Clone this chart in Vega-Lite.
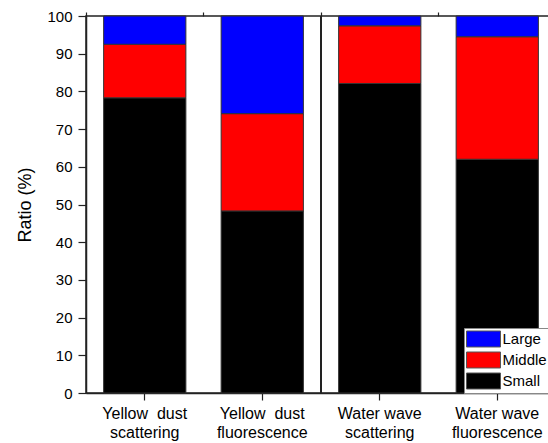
{
  "$schema": "https://vega.github.io/schema/vega-lite/v6.json",
  "width": 470,
  "height": 377,
  "autosize": {"type": "none"},
  "padding": {"left": 86, "top": 16, "right": 0, "bottom": 50},
  "config": {
    "font": "Liberation Sans",
    "view": {"stroke": "#222", "strokeWidth": 1.5},
    "axis": {"domainColor": "#222", "tickColor": "#222", "labelColor": "#000", "titleColor": "#000", "domainWidth": 1.5, "tickWidth": 1.2}
  },
  "data": {
    "values": [
      {"group": "Yellow\u00a0 dust|scattering", "size": "Small", "ratio": 78.3},
      {"group": "Yellow\u00a0 dust|scattering", "size": "Middle", "ratio": 14.2},
      {"group": "Yellow\u00a0 dust|scattering", "size": "Large", "ratio": 7.5},
      {"group": "Yellow\u00a0 dust|fluorescence", "size": "Small", "ratio": 48.3},
      {"group": "Yellow\u00a0 dust|fluorescence", "size": "Middle", "ratio": 25.8},
      {"group": "Yellow\u00a0 dust|fluorescence", "size": "Large", "ratio": 25.9},
      {"group": "Water wave|scattering", "size": "Small", "ratio": 82.1},
      {"group": "Water wave|scattering", "size": "Middle", "ratio": 15.3},
      {"group": "Water wave|scattering", "size": "Large", "ratio": 2.6},
      {"group": "Water wave|fluorescence", "size": "Small", "ratio": 62.0},
      {"group": "Water wave|fluorescence", "size": "Middle", "ratio": 32.5},
      {"group": "Water wave|fluorescence", "size": "Large", "ratio": 5.5}
    ]
  },
  "layer": [
    {
      "mark": {"type": "bar", "width": {"band": 0.7}, "stroke": "#333", "strokeWidth": 1},
      "encoding": {
        "x": {
          "field": "group", "type": "nominal",
          "scale": {"domain": ["Yellow\u00a0 dust|scattering", "Yellow\u00a0 dust|fluorescence", "Water wave|scattering", "Water wave|fluorescence"], "paddingInner": 0, "paddingOuter": 0},
          "axis": {"title": null, "labelAngle": 0, "labelExpr": "split(datum.label, '|')", "labelFontSize": 16, "labelLineHeight": 19, "tickSize": 7, "labelPadding": 5, "labelBaseline": "top"}
        },
        "y": {
          "field": "ratio", "type": "quantitative", "stack": "zero",
          "scale": {"domain": [0, 100], "nice": false},
          "axis": {"title": "Ratio (%)", "titleFontSize": 18, "titleFontWeight": "normal", "titlePadding": 12, "values": [0, 10, 20, 30, 40, 50, 60, 70, 80, 90, 100], "labelFontSize": 15, "tickSize": 8, "labelPadding": 6, "grid": false}
        },
        "color": {
          "field": "size", "type": "nominal",
          "scale": {"domain": ["Large", "Middle", "Small"], "range": ["#0000FF", "#FF0000", "#000000"]},
          "legend": {
            "title": null, "orient": "none", "legendX": 378, "legendY": 312, "direction": "vertical",
            "fillColor": "#FFFFFF", "strokeColor": "#888", "padding": 2,
            "symbolType": "M-2,-0.94L2,-0.94L2,0.94L-2,0.94Z", "symbolSize": 289, "symbolOffset": 8.5,
            "symbolStrokeColor": "#555", "symbolStrokeWidth": 1,
            "labelFontSize": 15, "labelOffset": 10, "rowPadding": 1
          }
        },
        "order": {"field": "size", "sort": "descending"}
      }
    },
    {
      "transform": [{"filter": "datum.group === 'Water wave|scattering' && datum.size === 'Small'"}],
      "mark": {"type": "rule", "color": "#222", "strokeWidth": 2},
      "encoding": {
        "x": {"field": "group", "type": "nominal", "bandPosition": 0,
          "axis": {"title": null, "labels": false, "domain": false, "bandPosition": 0, "tickSize": 4}}
      }
    },
    {
      "mark": {"type": "point", "opacity": 0},
      "encoding": {
        "y": {"field": "ratio", "type": "quantitative",
          "axis": {"title": null, "labels": false, "domain": false, "values": [5, 15, 25, 35, 45, 55, 65, 75, 85, 95], "tickSize": 4, "grid": false}}
      }
    }
  ],
  "resolve": {"axis": {"x": "independent", "y": "independent"}}
}
